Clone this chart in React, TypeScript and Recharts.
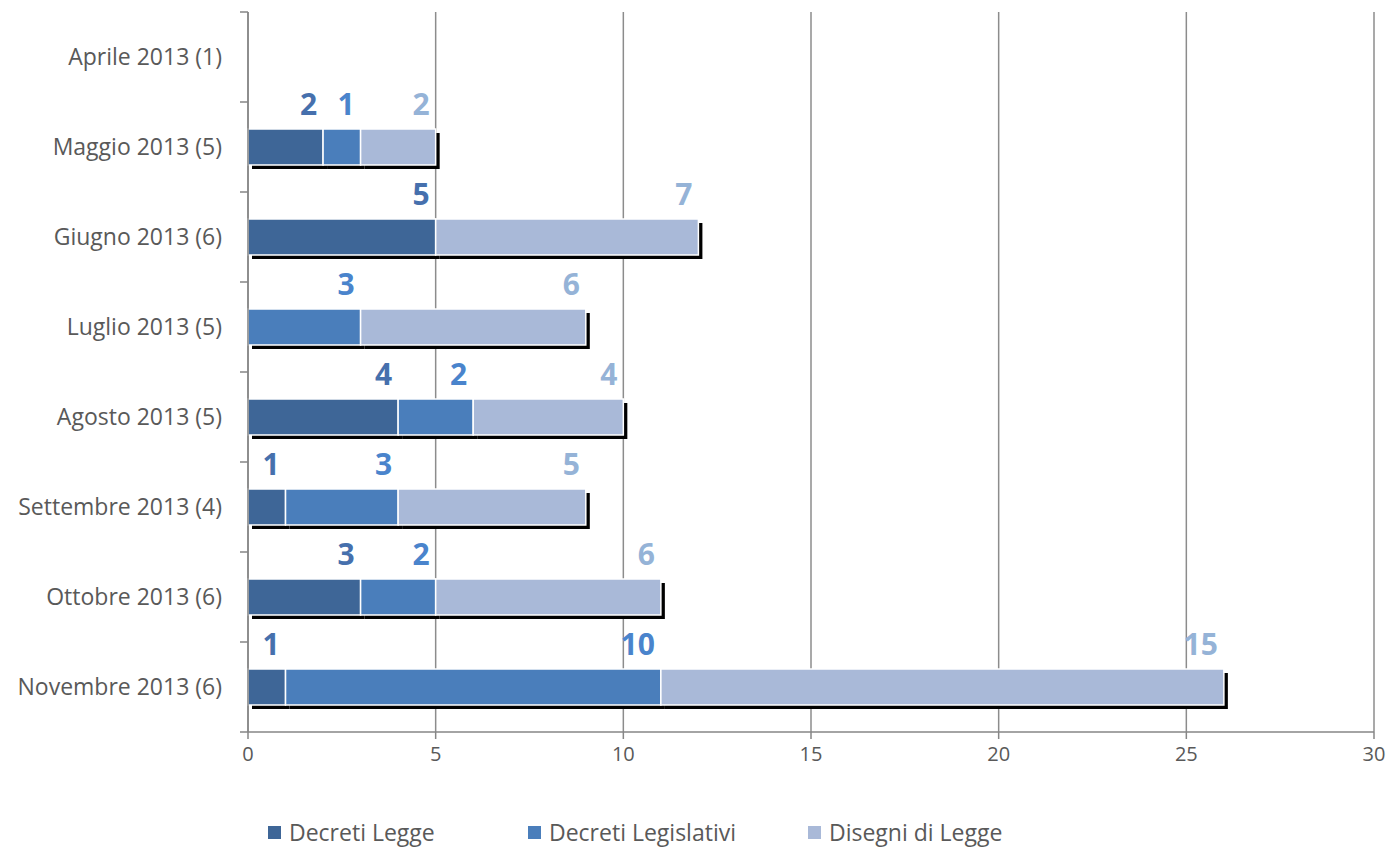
import React from "react";
import { BarChart, Bar, XAxis, YAxis, CartesianGrid, LabelList, Legend } from "recharts";

const categories = [
  "Aprile 2013 (1)",
  "Maggio 2013 (5)",
  "Giugno 2013 (6)",
  "Luglio 2013 (5)",
  "Agosto 2013 (5)",
  "Settembre 2013 (4)",
  "Ottobre 2013 (6)",
  "Novembre 2013 (6)",
];
const decretiLegge = [null, 2, 5, null, 4, 1, 3, 1];
const decretiLegislativi = [null, 1, null, 3, 2, 3, 2, 10];
const disegniDiLegge = [null, 2, 7, 6, 4, 5, 6, 15];
const xTicks = [0, 5, 10, 15, 20, 25, 30];

const seriesInfo = [
  { key: "dl", name: "Decreti Legge", fill: "#3e6697", label: "#4670ad" },
  { key: "dlgs", name: "Decreti Legislativi", fill: "#4a7ebb", label: "#4a84cc" },
  { key: "ddl", name: "Disegni di Legge", fill: "#a9b9d8", label: "#95b3d7" },
];

const data = categories.map((c, i) => ({
  cat: c,
  dl: decretiLegge[i],
  dlgs: decretiLegislativi[i],
  ddl: disegniDiLegge[i],
}));

const FONT = "'Open Sans', sans-serif";

const ShadowBar = (props: any) => {
  const { x, y, width, height, fill } = props;
  if (!width || width <= 0) return null;
  return (
    <g>
      <rect x={x + 4} y={y + 4} width={width} height={height} fill="#000" />
      <rect x={x} y={y} width={width} height={height} fill={fill} stroke="#fff" strokeWidth={1.5} />
    </g>
  );
};

const makeLabel = (color: string) => (props: any) => {
  const { x, y, width, value } = props;
  if (!value) return null;
  return (
    <text
      x={x + width - 6}
      y={y - 14}
      textAnchor="end"
      fill={color}
      fontFamily={FONT}
      fontWeight={700}
      fontSize={30}
    >
      {value}
    </text>
  );
};

const YTick = (props: any) => {
  const { x, y, payload, index } = props;
  const half = 45;
  return (
    <g>
      <line x1={x + 18} x2={x + 26} y1={y - half} y2={y - half} stroke="#868686" strokeWidth={1.5} />
      {index === categories.length - 1 && (
        <line x1={x + 18} x2={x + 26} y1={y + half} y2={y + half} stroke="#868686" strokeWidth={1.5} />
      )}
      <text x={x} y={y} dy={8} textAnchor="end" fill="#595959" fontFamily={FONT} fontSize={23}>
        {payload.value}
      </text>
    </g>
  );
};

const LegendContent = () => (
  <div
    style={{
      height: 70,
      position: "relative",
      fontFamily: FONT,
      fontSize: 23,
      color: "#595959",
    }}
  >
    {seriesInfo.map((s, i) => (
      <div
        key={s.key}
        style={{
          position: "absolute",
          left: [268, 528, 808][i],
          top: 39,
          display: "flex",
          alignItems: "center",
          whiteSpace: "nowrap",
        }}
      >
        <span style={{ display: "inline-block", width: 13, height: 13, background: s.fill, marginRight: 8 }} />
        <span>{s.name}</span>
      </div>
    ))}
  </div>
);

export default function App() {
  return (
    <div style={{ position: "absolute", left: 0, top: 0, width: 1390, height: 847, background: "#fff" }}>
      <BarChart
        width={1390}
        height={847}
        data={data}
        layout="vertical"
        margin={{ top: 12, right: 16, bottom: 0, left: 0 }}
        barSize={36}
      >
        <CartesianGrid horizontal={false} vertical stroke="#8c8c8c" strokeWidth={1.5} />
        <XAxis
          type="number"
          domain={[0, 30]}
          ticks={xTicks}
          interval={0}
          height={45}
          axisLine={{ stroke: "#868686", strokeWidth: 1.5 }}
          tickLine={{ stroke: "#868686", strokeWidth: 1.5 }}
          tickSize={7}
          tickMargin={8}
          tick={{ fill: "#595959", fontFamily: FONT, fontSize: 20 }}
        />
        <YAxis
          type="category"
          dataKey="cat"
          width={248}
          axisLine={{ stroke: "#868686", strokeWidth: 1.5 }}
          tickLine={false}
          tickSize={0}
          tickMargin={26}
          interval={0}
          tick={<YTick />}
        />
        <Legend verticalAlign="bottom" content={<LegendContent />} />
        {seriesInfo.map((s) => (
          <Bar
            key={s.key}
            dataKey={s.key}
            name={s.name}
            stackId="a"
            fill={s.fill}
            isAnimationActive={false}
            shape={<ShadowBar />}
          >
            <LabelList dataKey={s.key} content={makeLabel(s.label)} />
          </Bar>
        ))}
      </BarChart>
    </div>
  );
}
